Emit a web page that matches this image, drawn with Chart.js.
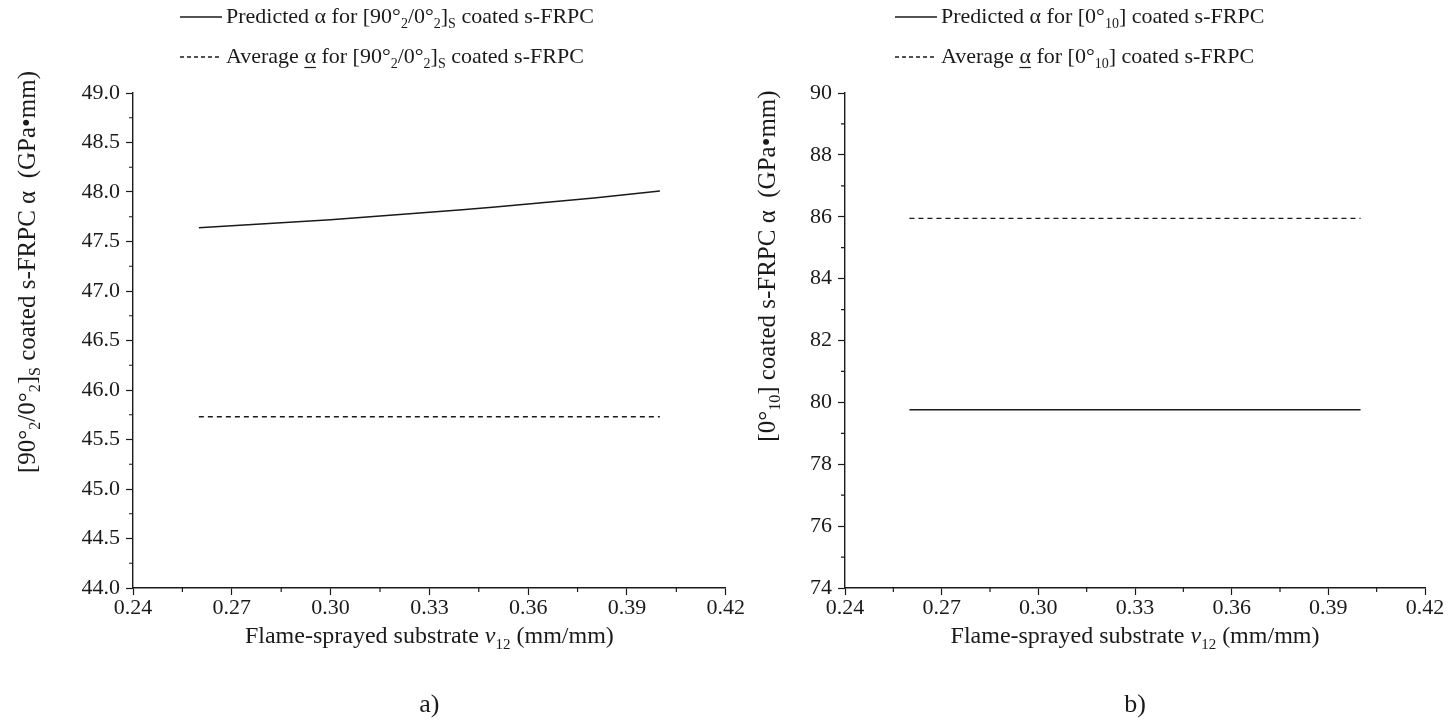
<!DOCTYPE html>
<html>
<head>
<meta charset="utf-8">
<script src="https://cdn.jsdelivr.net/npm/chart.js@4.4.1/dist/chart.umd.min.js"></script>
<style>
  body { margin: 0; background: #fff; }
  #wrap { position: relative; width: 1455px; height: 727px; }
  .box { position: absolute; top: 0; height: 727px; }
</style>
</head>
<body>
<div id="wrap">
  <div class="box" style="left:0;width:745px"><canvas id="chartA"></canvas></div>
  <div class="box" style="left:745px;width:710px"><canvas id="chartB"></canvas></div>
</div>
<script>
// x values: Flame-sprayed substrate v12 (mm/mm)
const nuValues = [0.26, 0.28, 0.30, 0.32, 0.34, 0.36, 0.38, 0.40];
// panel a) [90/0]s
const predictedA = [47.64, 47.68, 47.72, 47.77, 47.82, 47.88, 47.94, 48.01];
const averageA   = [45.73, 45.73, 45.73, 45.73, 45.73, 45.73, 45.73, 45.73];
// panel b) [0_10]
const predictedB = [79.76, 79.76, 79.76, 79.76, 79.76, 79.76, 79.76, 79.76];
const averageB   = [85.95, 85.95, 85.95, 85.95, 85.95, 85.95, 85.95, 85.95];

const FONT = '"Liberation Serif", "Times New Roman", serif';
const INK = '#1a1a1a';

// draw text made of segments, some subscript / italic / underlined
function drawRich(ctx, segs, x, y, size, align) {
  const subSize = Math.round(size * 0.62);
  let total = 0;
  const widths = segs.map(s => {
    ctx.font = (s.it ? 'italic ' : '') + (s.sub ? subSize : size) + 'px ' + FONT;
    const w = ctx.measureText(s.t).width;
    total += w;
    return w;
  });
  let cx = align === 'center' ? x - total / 2 : x;
  ctx.textBaseline = 'middle';
  ctx.textAlign = 'left';
  segs.forEach((s, i) => {
    ctx.font = (s.it ? 'italic ' : '') + (s.sub ? subSize : size) + 'px ' + FONT;
    const dy = s.sub ? size * 0.32 : 0;
    ctx.fillText(s.t, cx, y + dy);
    if (s.ul) {
      ctx.fillRect(cx, y + size * 0.45, widths[i], 1.2);
    }
    cx += widths[i];
  });
}

const decorPlugin = {
  id: 'decor',
  afterDraw(chart, args, o) {
    const ctx = chart.ctx;
    const xs = chart.scales.x, ys = chart.scales.y;
    ctx.save();
    ctx.fillStyle = INK;
    ctx.strokeStyle = INK;
    // minor ticks
    ctx.lineWidth = 1.2;
    ctx.beginPath();
    for (let v = o.xMin + o.xStep / 2; v < o.xMax; v += o.xStep) {
      const px = xs.getPixelForValue(v);
      ctx.moveTo(px, ys.bottom);
      ctx.lineTo(px, ys.bottom + 4);
    }
    for (let v = o.yMin + o.yStep / 2; v < o.yMax; v += o.yStep) {
      const py = ys.getPixelForValue(v);
      ctx.moveTo(xs.left, py);
      ctx.lineTo(xs.left - 4, py);
    }
    ctx.stroke();

    // legend
    o.legend.forEach((item, i) => {
      const y = o.legendY + i * 40;
      ctx.beginPath();
      ctx.lineWidth = 1.3;
      ctx.setLineDash(item.dash);
      ctx.moveTo(o.legendX, y);
      ctx.lineTo(o.legendX + 42, y);
      ctx.stroke();
      ctx.setLineDash([]);
      drawRich(ctx, item.segs, o.legendX + 46, y, 22, 'left');
    });

    // x title + panel label
    const cxm = (xs.left + xs.right) / 2;
    drawRich(ctx, o.xTitle, cxm, o.xTitleY, 24, 'center');
    drawRich(ctx, [{t: o.panel}], cxm, o.panelY, 26, 'center');

    // y title, rotated
    ctx.translate(o.yTitleX, o.yTitleMid);
    ctx.rotate(-Math.PI / 2);
    drawRich(ctx, o.yTitle, 0, 0, 25, 'center');
    ctx.restore();
  }
};

const xTitleSegs = [
  {t: 'Flame-sprayed substrate '}, {t: 'ν', it: true}, {t: '12', sub: true}, {t: ' (mm/mm)'}
];

function makeChart(id, cfg) {
  return new Chart(document.getElementById(id), {
    type: 'line',
    data: {
      datasets: [
        {
          data: nuValues.map((x, i) => ({x: x, y: cfg.predicted[i]})),
          borderColor: INK, borderWidth: 1.5, pointRadius: 0, tension: 0.3
        },
        {
          data: nuValues.map((x, i) => ({x: x, y: cfg.average[i]})),
          borderColor: INK, borderWidth: 1.3, borderDash: [5, 4], pointRadius: 0
        }
      ]
    },
    options: {
      responsive: true,
      maintainAspectRatio: false,
      animation: false,
      events: [],
      layout: { padding: cfg.padding },
      plugins: {
        legend: { display: false },
        tooltip: { enabled: false },
        decor: cfg.decor
      },
      scales: {
        x: {
          type: 'linear', min: 0.24, max: 0.42,
          afterFit: s => { s.height = 32; },
          afterBuildTicks: s => {
            s.ticks = [0.24, 0.27, 0.30, 0.33, 0.36, 0.39, 0.42].map(v => ({value: v}));
          },
          ticks: {
            color: INK, font: {family: FONT, size: 22}, padding: 0, maxRotation: 0,
            callback: v => v.toFixed(2)
          },
          grid: { drawOnChartArea: false, tickLength: 7, tickColor: INK, tickWidth: 1.2 },
          border: { color: INK, width: 1.4 }
        },
        y: {
          type: 'linear', min: cfg.yMin, max: cfg.yMax,
          afterFit: s => { s.width = cfg.yAxisW; },
          ticks: {
            stepSize: cfg.yStep, color: INK, font: {family: FONT, size: 22}, padding: 6,
            callback: v => v.toFixed(cfg.yDec)
          },
          grid: { drawOnChartArea: false, tickLength: 7, tickColor: INK, tickWidth: 1.2 },
          border: { color: INK, width: 1.4 }
        }
      }
    },
    plugins: [decorPlugin]
  });
}

makeChart('chartA', {
  predicted: predictedA, average: averageA,
  yMin: 44, yMax: 49, yStep: 0.5, yDec: 1, yAxisW: 60,
  padding: {left: 73, right: 12, top: 93, bottom: 107},
  decor: {
    xMin: 0.24, xMax: 0.42, xStep: 0.03, yMin: 44, yMax: 49, yStep: 0.5,
    legendX: 180, legendY: 17,
    legend: [
      {dash: [], segs: [{t: 'Predicted α for [90°'}, {t: '2', sub: true}, {t: '/0°'}, {t: '2', sub: true}, {t: ']'}, {t: 'S', sub: true}, {t: ' coated s-FRPC'}]},
      {dash: [4, 3], segs: [{t: 'Average '}, {t: 'α', ul: true}, {t: ' for [90°'}, {t: '2', sub: true}, {t: '/0°'}, {t: '2', sub: true}, {t: ']'}, {t: 'S', sub: true}, {t: ' coated s-FRPC'}]}
    ],
    xTitle: xTitleSegs, xTitleY: 637, panel: 'a)', panelY: 705,
    yTitleX: 28, yTitleMid: 272,
    yTitle: [{t: '[90°'}, {t: '2', sub: true}, {t: '/0°'}, {t: '2', sub: true}, {t: ']'}, {t: 'S', sub: true}, {t: ' coated s-FRPC α  (GPa•mm)'}]
  }
});

makeChart('chartB', {
  predicted: predictedB, average: averageB,
  yMin: 74, yMax: 90, yStep: 2, yDec: 0, yAxisW: 40,
  padding: {left: 60, right: 30, top: 93, bottom: 107},
  decor: {
    xMin: 0.24, xMax: 0.42, xStep: 0.03, yMin: 74, yMax: 90, yStep: 2,
    legendX: 150, legendY: 17,
    legend: [
      {dash: [], segs: [{t: 'Predicted α for [0°'}, {t: '10', sub: true}, {t: '] coated s-FRPC'}]},
      {dash: [4, 3], segs: [{t: 'Average '}, {t: 'α', ul: true}, {t: ' for [0°'}, {t: '10', sub: true}, {t: '] coated s-FRPC'}]}
    ],
    xTitle: xTitleSegs, xTitleY: 637, panel: 'b)', panelY: 705,
    yTitleX: 23, yTitleMid: 266,
    yTitle: [{t: '[0°'}, {t: '10', sub: true}, {t: '] coated s-FRPC α  (GPa•mm)'}]
  }
});
</script>
</body>
</html>
